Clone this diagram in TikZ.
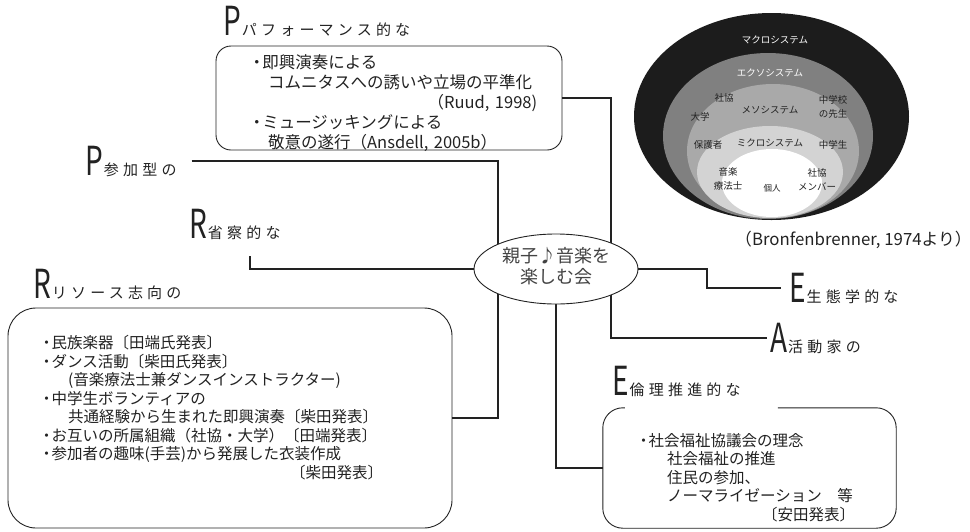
\documentclass[tikz,border=0pt]{standalone}
\usepackage{graphicx}
\usepackage{fontspec}
\setmainfont{Noto Sans CJK JP}
\newfontfamily\lblfont[LetterSpace=28]{Noto Sans CJK JP}
\usetikzlibrary{shapes.geometric,backgrounds,calc}
\definecolor{ink}{HTML}{222222}
\definecolor{ringA}{HTML}{1C1C1C}
\definecolor{ringB}{HTML}{808080}
\definecolor{ringC}{HTML}{A9A9A9}
\definecolor{ringD}{HTML}{D3D3D3}
\newcommand{\bigltr}[1]{\scalebox{0.7}[1]{\fontsize{40}{40}\selectfont #1}\hspace{1pt}}
\newcommand{\lbltext}[1]{{\lblfont\fontsize{15}{15}\selectfont #1}}
\newcommand{\bul}{\makebox[0.55em][l]{\hspace*{-0.28em}・}}
\begin{document}
\begin{tikzpicture}[x=1pt,y=-1pt,
  lbl/.style={inner sep=0pt, anchor=base west, text=ink},
  conn/.style={draw=ink, line width=1.1pt},
  boxline/.style={draw=ink, line width=0.9pt},
  body/.style={inner sep=0pt, anchor=north west, align=left, text=ink},
  eco/.style={inner sep=0pt, font=\fontsize{9.5}{14}\selectfont, align=center, text=ink},
  ecow/.style={eco, text=white}]
\useasboundingbox (0,0) rectangle (970,531);

% ecological system diagram
\fill[ringA] (771.5,116.5) ellipse [x radius=137.5, y radius=103.5];
\fill[ringB] (768,136) ellipse [x radius=105, y radius=83];
\fill[ringC] (773,151) ellipse [x radius=86, y radius=67];
\fill[ringD] (770,172) ellipse [x radius=73, y radius=46];
\fill[white] (772,183) ellipse [x radius=50, y radius=34];
\node[ecow] (mac) at (775,40) {マクロシステム};
\node[ecow] (exo) at (770,73) {エクソシステム};
\node[eco] (sk1) at (724,98) {社協};
\node[eco] (dai) at (700,117) {大学};
\node[eco] (meso) at (770,110) {メソシステム};
\node[eco] (chu1) at (833,107) {中学校\\の先生};
\node[eco] (hog) at (708,145) {保護者};
\node[eco] (micro) at (770,143) {ミクロシステム};
\node[eco] (chu2) at (833,145) {中学生};
\node[eco] (ong) at (728,179) {音楽\\療法士};
\node[eco, font=\fontsize{8.5}{10}\selectfont] (kojin) at (772,188) {個人};
\node[eco] (sk2) at (817,180) {社協\\メンバー};
\node[inner sep=0pt, anchor=west, font=\fontsize{16.8}{18}\selectfont, text=ink] (bref) at (735,240) {（Bronfenbrenner, 1974より）};

% labels
\node[lbl] (lp1) at (223,35) {\bigltr{P}\lbltext{パフォーマンス的な}};
\node[lbl] (lp2) at (85,175) {\bigltr{P}\lbltext{参加型の}};
\node[lbl] (lr1) at (189,238) {\bigltr{R}\lbltext{省察的な}};
\node[lbl] (lr2) at (33,298) {\bigltr{R}\lbltext{リソース志向の}};
\node[lbl] (le1) at (789,302) {\bigltr{E}\lbltext{生態学的な}};
\node[lbl] (la) at (770,352) {\bigltr{A}\lbltext{活動家の}};
\node[lbl] (le2) at (612,395) {\bigltr{E}\lbltext{倫理推進的な}};

% boxes
\node[boxline, rounded corners=15pt, minimum width=346pt, minimum height=104pt, inner sep=0pt] (pbox) at (389,98) {};
\node[boxline, rounded corners=28pt, minimum width=444pt, minimum height=220pt, inner sep=0pt] (lbox) at (230,418) {};
\node[inner sep=0pt, minimum width=293pt, minimum height=120pt] (ebox) at (749.5,468) {};
\draw[boxline, rounded corners=20pt] ($(ebox.north west)+(175,0)$) -- (ebox.north east) -- (ebox.south east) -- (ebox.south west) -- (ebox.north west) -- ($(ebox.north west)+(22,0)$);

% box texts
\node[body, text width=284pt, font=\fontsize{16.5}{20}\selectfont] (ptxt) at (253,54)
 {\bul 即興演奏による\\\hspace*{15pt}コムニタスへの誘いや立場の平準化\\\hspace*{\fill}（Ruud, 1998)\\\bul ミュージッキングによる\\\hspace*{15pt}敬意の遂行（Ansdell, 2005b）};
\node[body, text width=340pt, font=\fontsize{15.5}{18.5}\selectfont] (ltxt) at (43,335)
 {\bul 民族楽器〔田端氏発表〕\\\bul ダンス活動〔柴田氏発表〕\\\hspace*{25pt}(音楽療法士兼ダンスインストラクター)\\\bul 中学生ボランティアの\\\hspace*{25pt}共通経験から生まれた即興演奏〔柴田発表〕\\\bul お互いの所属組織（社協・大学）〔田端発表〕\\\bul 参加者の趣味(手芸)から発展した衣装作成\\\hspace*{\fill}〔柴田発表〕};
\node[body, text width=215pt, font=\fontsize{15.5}{18.5}\selectfont] (etxt) at (640,433)
 {\bul 社会福祉協議会の理念\\\hspace*{27pt}社会福祉の推進\\\hspace*{27pt}住民の参加、\\\hspace*{27pt}ノーマライゼーション　等\\\hspace*{\fill}〔安田発表〕};

% central ellipse
\node[ellipse, draw=ink, line width=0.9pt, fill=white, minimum width=164pt, minimum height=70pt, inner sep=0pt, align=center, font=\fontsize{18}{22}\selectfont, text=ink!85] (cell) at (556,269) {\raisebox{-4pt}{\begin{tabular}{@{}c@{}}親子♪音楽を\\[-1pt]楽しむ会\end{tabular}}};

% connectors
\coordinate (j1) at (498,418);
\coordinate (j2) at (611,338);
\coordinate (j3) at (707,269);
\coordinate (r1s) at (250,256);
\begin{scope}[on background layer]
\draw[conn] ([xshift=15pt]lp2.east) -| (j1) -- (lbox.east);
\draw[conn] (r1s) |- (cell.west);
\draw[conn] (pbox.east) -| (j2) -- ([xshift=-3pt]j2 -| la.west);
\draw[conn] (cell.east) -- (j3) |- ([xshift=-8pt]le1.west);
\draw[conn] (cell.south) |- (ebox.west);
\end{scope}
\end{tikzpicture}
\end{document}
